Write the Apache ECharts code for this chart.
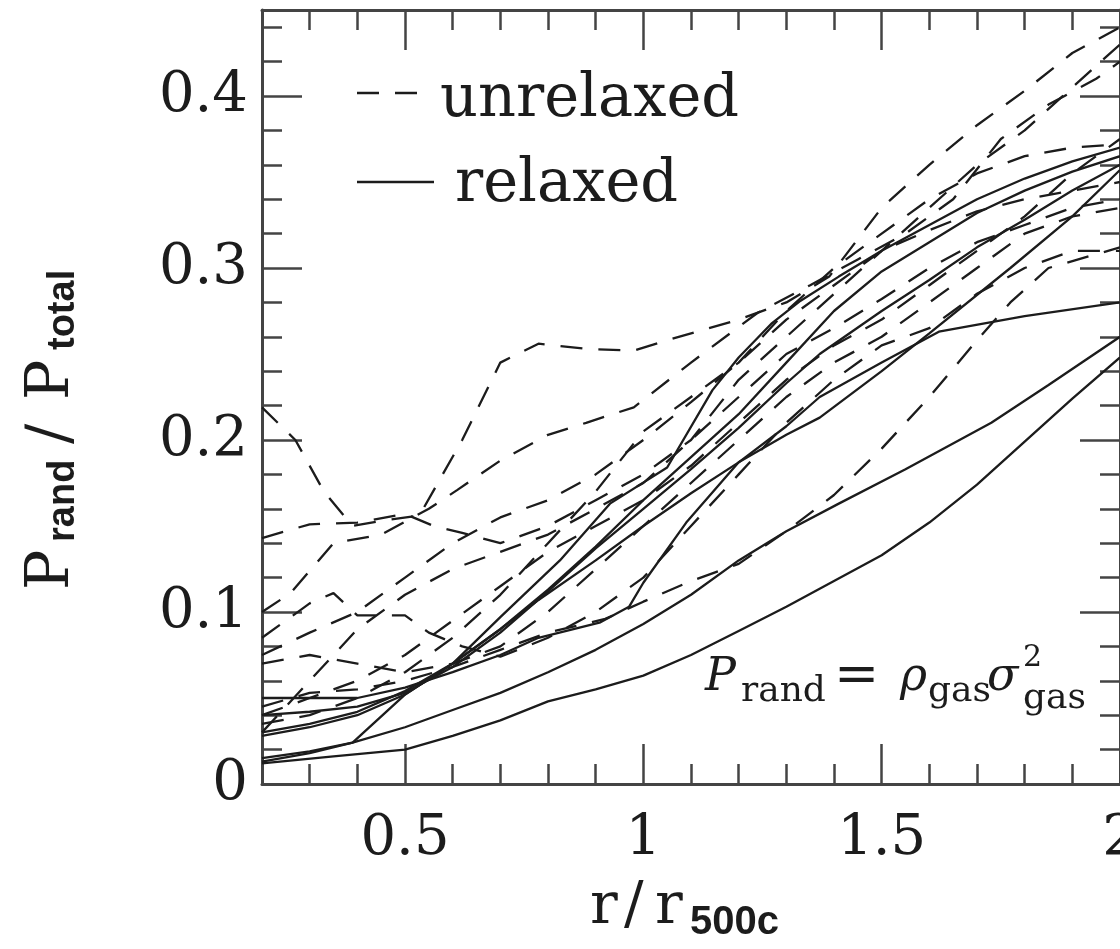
<!DOCTYPE html>
<html>
<head>
<meta charset="utf-8">
<script src="https://cdn.jsdelivr.net/npm/echarts@6/dist/echarts.min.js"></script>
<style>
  html, body { margin: 0; padding: 0; background: #fff; }
  #chart { width: 1120px; height: 949px; }
</style>
</head>
<body>
<div id="chart"></div>
<script>
// Axis ticks
const xMajorTicks = [0.5, 1, 1.5, 2];
const xMinorTicks = [0.3, 0.4, 0.6, 0.7, 0.8, 0.9, 1.1, 1.2, 1.3, 1.4, 1.6, 1.7, 1.8, 1.9];
const yMajorTicks = [0, 0.1, 0.2, 0.3, 0.4];
const yMinorTicks = [0.02, 0.04, 0.06, 0.08, 0.12, 0.14, 0.16, 0.18, 0.22, 0.24, 0.26, 0.28,
                     0.32, 0.34, 0.36, 0.38, 0.42, 0.44];

// Relaxed clusters: [r/r500c, Prand/Ptotal]
const relaxed1 = [[0.2,0.012],[0.35,0.016],[0.5,0.02],[0.6,0.028],[0.7,0.037],[0.8,0.048],[0.9,0.055],[1.0,0.063],[1.1,0.075],[1.2,0.089],[1.3,0.103],[1.4,0.118],[1.5,0.133],[1.6,0.152],[1.7,0.174],[1.8,0.199],[1.9,0.224],[2.0,0.248]];
const relaxed2 = [[0.2,0.015],[0.3,0.019],[0.39,0.024],[0.5,0.033],[0.6,0.043],[0.7,0.053],[0.8,0.065],[0.9,0.078],[1.0,0.093],[1.1,0.11],[1.2,0.13],[1.3,0.147],[1.41,0.163],[1.55,0.183],[1.73,0.21],[1.85,0.232],[2.0,0.26]];
const relaxed3 = [[0.2,0.013],[0.3,0.018],[0.39,0.024],[0.5,0.052],[0.6,0.07],[0.7,0.09],[0.8,0.113],[0.9,0.138],[1.0,0.165],[1.1,0.19],[1.2,0.215],[1.3,0.245],[1.4,0.275],[1.5,0.298],[1.6,0.315],[1.7,0.332],[1.8,0.345],[1.9,0.356],[2.0,0.365]];
const relaxed4 = [[0.2,0.03],[0.3,0.035],[0.4,0.042],[0.5,0.054],[0.6,0.07],[0.7,0.097],[0.825,0.13],[0.93,0.163],[1.05,0.184],[1.145,0.229],[1.2,0.248],[1.27,0.268],[1.33,0.281],[1.41,0.295],[1.5,0.31],[1.6,0.325],[1.7,0.34],[1.8,0.352],[1.9,0.362],[2.0,0.37]];
const relaxed5 = [[0.2,0.05],[0.3,0.05],[0.4,0.05],[0.5,0.056],[0.6,0.065],[0.7,0.075],[0.78,0.085],[0.91,0.094],[0.97,0.103],[1.0,0.117],[1.09,0.152],[1.2,0.187],[1.3,0.208],[1.37,0.225],[1.5,0.245],[1.62,0.263],[1.8,0.272],[2.0,0.28]];
const relaxed6 = [[0.2,0.028],[0.3,0.033],[0.4,0.04],[0.5,0.052],[0.6,0.07],[0.7,0.09],[0.78,0.107],[0.9,0.13],[1.0,0.15],[1.1,0.169],[1.2,0.187],[1.3,0.203],[1.37,0.213],[1.5,0.24],[1.6,0.262],[1.77,0.3],[1.9,0.33],[2.0,0.357]];
const relaxed7 = [[0.2,0.04],[0.3,0.042],[0.4,0.045],[0.5,0.053],[0.6,0.068],[0.7,0.088],[0.8,0.112],[0.9,0.137],[1.0,0.16],[1.1,0.183],[1.2,0.207],[1.3,0.233],[1.37,0.25],[1.5,0.275],[1.6,0.293],[1.7,0.312],[1.8,0.328],[1.9,0.345],[2.0,0.36]];

// Unrelaxed clusters
const unrelaxed1 = [[0.2,0.219],[0.27,0.2],[0.33,0.17],[0.39,0.15],[0.45,0.153],[0.53,0.156],[0.62,0.2],[0.7,0.245],[0.78,0.256],[0.88,0.253],[0.98,0.252],[1.05,0.258],[1.2,0.27],[1.3,0.28],[1.39,0.295],[1.5,0.335],[1.6,0.36],[1.7,0.383],[1.8,0.403],[1.9,0.425],[2.0,0.44]];
const unrelaxed2 = [[0.2,0.143],[0.3,0.151],[0.4,0.152],[0.5,0.157],[0.56,0.15],[0.62,0.146],[0.7,0.14],[0.8,0.15],[0.9,0.165],[1.0,0.18],[1.1,0.2],[1.2,0.235],[1.3,0.26],[1.4,0.285],[1.5,0.31],[1.6,0.335],[1.7,0.36],[1.8,0.38],[1.9,0.405],[2.0,0.43]];
const unrelaxed3 = [[0.2,0.1],[0.26,0.111],[0.35,0.14],[0.45,0.145],[0.55,0.16],[0.61,0.171],[0.7,0.188],[0.8,0.203],[0.88,0.21],[0.98,0.219],[1.1,0.245],[1.24,0.274],[1.35,0.29],[1.45,0.305],[1.55,0.32],[1.65,0.34],[1.75,0.375],[1.85,0.395],[1.95,0.41],[2.0,0.42]];
const unrelaxed4 = [[0.2,0.045],[0.3,0.053],[0.4,0.055],[0.5,0.06],[0.6,0.068],[0.7,0.078],[0.8,0.088],[0.92,0.096],[1.0,0.106],[1.1,0.118],[1.2,0.128],[1.3,0.147],[1.4,0.168],[1.5,0.195],[1.6,0.225],[1.7,0.258],[1.77,0.28],[1.85,0.3],[2.0,0.312]];
const unrelaxed5 = [[0.2,0.085],[0.3,0.105],[0.35,0.111],[0.4,0.098],[0.5,0.098],[0.55,0.088],[0.62,0.08],[0.7,0.074],[0.8,0.085],[0.9,0.1],[1.0,0.12],[1.1,0.15],[1.2,0.18],[1.3,0.21],[1.4,0.235],[1.5,0.255],[1.6,0.265],[1.7,0.285],[1.8,0.3],[1.9,0.31],[2.0,0.31]];
const unrelaxed6 = [[0.2,0.075],[0.3,0.088],[0.4,0.1],[0.5,0.12],[0.6,0.14],[0.7,0.155],[0.8,0.165],[0.9,0.18],[1.0,0.2],[1.1,0.222],[1.2,0.245],[1.3,0.27],[1.4,0.29],[1.5,0.31],[1.6,0.322],[1.7,0.333],[1.8,0.34],[1.9,0.345],[2.0,0.35]];
const unrelaxed7 = [[0.2,0.04],[0.3,0.05],[0.4,0.06],[0.5,0.075],[0.6,0.095],[0.7,0.115],[0.8,0.135],[0.9,0.15],[1.0,0.165],[1.1,0.185],[1.2,0.21],[1.3,0.235],[1.4,0.255],[1.5,0.27],[1.6,0.29],[1.7,0.31],[1.8,0.33],[1.9,0.355],[2.0,0.375]];
const unrelaxed8 = [[0.2,0.035],[0.3,0.04],[0.4,0.05],[0.5,0.065],[0.6,0.085],[0.7,0.11],[0.8,0.14],[0.9,0.17],[1.0,0.205],[1.1,0.225],[1.2,0.245],[1.3,0.275],[1.4,0.3],[1.5,0.32],[1.6,0.34],[1.7,0.355],[1.8,0.365],[1.9,0.37],[2.0,0.372]];
const unrelaxed9 = [[0.2,0.03],[0.3,0.06],[0.4,0.09],[0.5,0.11],[0.6,0.125],[0.7,0.135],[0.8,0.145],[0.9,0.16],[1.0,0.175],[1.1,0.2],[1.2,0.225],[1.3,0.25],[1.4,0.265],[1.5,0.282],[1.6,0.3],[1.7,0.315],[1.8,0.325],[1.9,0.335],[2.0,0.34]];
const unrelaxed10 = [[0.2,0.07],[0.3,0.075],[0.4,0.07],[0.5,0.065],[0.6,0.07],[0.7,0.08],[0.8,0.1],[0.9,0.125],[1.0,0.15],[1.1,0.175],[1.2,0.2],[1.3,0.225],[1.4,0.245],[1.5,0.26],[1.6,0.28],[1.7,0.3],[1.8,0.32],[1.9,0.33],[2.0,0.335]];

const relaxedSets = [relaxed1, relaxed2, relaxed3, relaxed4, relaxed5, relaxed6, relaxed7];
const unrelaxedSets = [unrelaxed1, unrelaxed2, unrelaxed3, unrelaxed4, unrelaxed5,
                       unrelaxed6, unrelaxed7, unrelaxed8, unrelaxed9, unrelaxed10];

const INK = '#1c1c1c';
const FRAME = '#444';
const SERIF = '"DejaVu Serif", serif';
const SANS = '"Liberation Sans", Arial, sans-serif';
const DASH = [22, 16];

function axisPair(kind, position, major, minor, labels, min, max) {
  const common = {
    type: 'value', min: min, max: max, position: position,
    splitLine: { show: false }, scale: false
  };
  const labelStyle = {
    show: labels, customValues: major, color: INK,
    fontFamily: SERIF, fontSize: 56,
    margin: kind === 'x' ? 27 : 14
  };
  return [
    Object.assign({}, common, {
      axisLine: { show: true, onZero: false, lineStyle: { color: FRAME, width: 3 } },
      axisTick: { show: true, inside: true, length: 40, customValues: major,
                  lineStyle: { color: FRAME, width: 2.5 } },
      axisLabel: labelStyle
    }),
    Object.assign({}, common, {
      axisLine: { show: false, onZero: false },
      axisTick: { show: true, inside: true, length: 20, customValues: minor,
                  lineStyle: { color: FRAME, width: 2.5 } },
      axisLabel: { show: false }
    })
  ];
}

const xAxes = [].concat(
  axisPair('x', 'bottom', xMajorTicks, xMinorTicks, true, 0.2, 2),
  axisPair('x', 'top', xMajorTicks, xMinorTicks, false, 0.2, 2)
);
const yAxes = [].concat(
  axisPair('y', 'left', yMajorTicks, yMinorTicks, true, 0, 0.45),
  axisPair('y', 'right', yMajorTicks, yMinorTicks, false, 0, 0.45)
);

function curve(name, data, dashed) {
  return {
    name: name, type: 'line', data: data,
    xAxisIndex: 0, yAxisIndex: 0,
    symbol: 'none', smooth: false, clip: true, silent: true,
    lineStyle: { color: INK, width: 2.3, type: dashed ? DASH : 'solid' },
    emphasis: { disabled: true }
  };
}

const series = []
  .concat(unrelaxedSets.map(d => curve('unrelaxed', d, true)))
  .concat(relaxedSets.map(d => curve('relaxed', d, false)));

// text placed by baseline (canvas 'middle' sits ~0.3em above the baseline)
function txt(str, x, baseline, size, family, extra) {
  return {
    type: 'text', silent: true,
    style: Object.assign({
      text: str, x: x, y: baseline - 0.3 * size,
      font: size + 'px ' + family, fill: INK,
      align: 'left', verticalAlign: 'middle'
    }, extra || {})
  };
}

const graphic = [
  // legend
  { type: 'line', silent: true, shape: { x1: 357, y1: 93, x2: 432, y2: 93 },
    style: { stroke: INK, lineWidth: 2.3, lineDash: DASH } },
  txt('unrelaxed', 440, 118, 59, SERIF),
  { type: 'line', silent: true, shape: { x1: 357, y1: 182, x2: 434, y2: 182 },
    style: { stroke: INK, lineWidth: 2.3 } },
  txt('relaxed', 455, 203, 59, SERIF),

  // formula
  txt('P', 705, 692, 46, SERIF, { font: 'italic 46px ' + SERIF }),
  txt('rand', 741, 702, 36, SERIF),
  txt('=', 834, 694, 54, SERIF),
  txt('\u03c1', 900, 692, 46, SERIF, { font: 'italic 46px ' + SERIF }),
  txt('gas', 928, 702, 36, SERIF),
  txt('\u03c3', 987, 692, 46, SERIF, { font: 'italic 46px ' + SERIF }),
  txt('2', 1023, 667, 30, SERIF),
  txt('gas', 1023, 709, 36, SERIF),

  // x axis title
  txt('r', 590, 925, 58, SERIF),
  txt('/', 624, 925, 58, SERIF),
  txt('r', 655, 925, 58, SERIF),
  txt('500c', 690, 935, 40, SANS, { font: 'bold 40px ' + SANS }),

  // y axis title, rotated to read bottom-to-top
  {
    type: 'group', x: 70, y: 590, rotation: Math.PI / 2, silent: true,
    children: [
      txt('P', 0, 0, 60, SERIF),
      txt('rand', 48, 5, 38, SANS, { font: 'bold 38px ' + SANS }),
      txt('/', 146, 0, 60, SERIF),
      txt('P', 190, 0, 60, SERIF),
      txt('total', 240, 5, 38, SANS, { font: 'bold 38px ' + SANS })
    ]
  }
];

const chart = echarts.init(document.getElementById('chart'), null, { renderer: 'canvas' });
chart.setOption({
  animation: false,
  backgroundColor: '#fff',
  grid: { left: 262, top: 10, width: 858, height: 774, containLabel: false, outerBoundsMode: 'none' },
  xAxis: xAxes,
  yAxis: yAxes,
  series: series,
  graphic: graphic
});
</script>
</body>
</html>
